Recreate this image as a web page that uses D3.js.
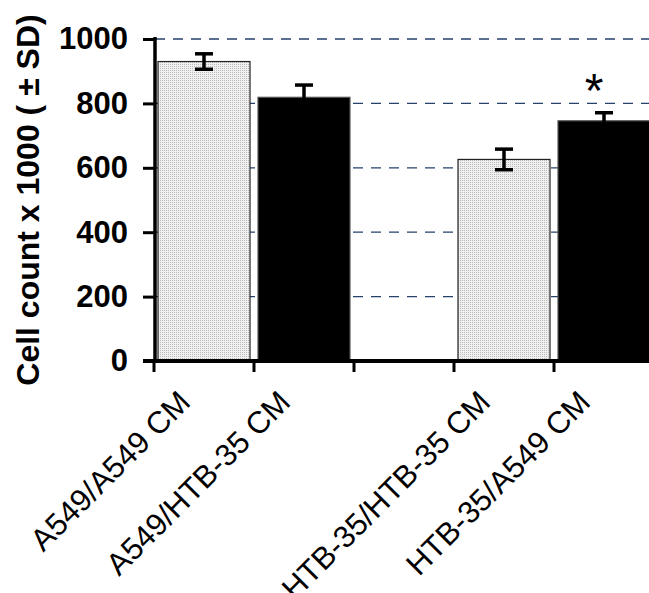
<!DOCTYPE html>
<html>
<head>
<meta charset="utf-8">
<script src="https://cdn.jsdelivr.net/npm/d3@7"></script>
<style>
  html, body { margin: 0; padding: 0; background: #fff; }
  svg { display: block; }
  text { font-family: Arial, "Liberation Sans", sans-serif; }
</style>
</head>
<body>
<svg id="chart" width="649" height="593"></svg>
<script>
// Category slots along the x axis ("" is the spacer between the two groups)
const categories = ["A549/A549 CM", "A549/HTB-35 CM", "", "HTB-35/HTB-35 CM", "HTB-35/A549 CM"];
// Mean cell count (x1000) per slot, null where there is no bar
const means = [930, 819, null, 626, 746];
// Standard deviation per slot
const sds = [24, 38, null, 32, 25];
// Bar style per slot: "dotted" = own conditioned medium, "solid" = other line's medium
const fills = ["dotted", "solid", null, "dotted", "solid"];
// Significance markers per slot
const marks = ["", "", "", "", "*"];
// y-axis ticks
const yTicks = [0, 200, 400, 600, 800, 1000];
const gridTicks = [200, 400, 600, 800, 1000];

const svg = d3.select("#chart");
const W = 649, H = 593;

const x = d3.scaleBand()
  .domain(d3.range(categories.length))
  .range([154, 654])
  .paddingInner(0.08)
  .paddingOuter(0.04);

const y = d3.scaleLinear().domain([0, 1000]).range([361, 39]);

// dotted fill pattern
const defs = svg.append("defs");
const pat = defs.append("pattern")
  .attr("id", "dots")
  .attr("width", 2).attr("height", 2)
  .attr("patternUnits", "userSpaceOnUse");
pat.append("rect").attr("width", 2).attr("height", 2).attr("fill", "#efefef");
pat.append("rect").attr("width", 1).attr("height", 1).attr("fill", "#bdbdbd");

// dashed horizontal gridlines
svg.append("g").selectAll("line")
  .data(gridTicks)
  .join("line")
  .attr("x1", 155).attr("x2", W)
  .attr("y1", d => y(d)).attr("y2", d => y(d))
  .attr("stroke", "#24426a")
  .attr("stroke-width", 1.3)
  .attr("stroke-dasharray", "10,8");

// bars
const idx = d3.range(categories.length).filter(i => means[i] != null);
svg.append("g").selectAll("rect")
  .data(idx)
  .join("rect")
  .attr("x", i => x(i))
  .attr("width", x.bandwidth())
  .attr("y", i => y(means[i]))
  .attr("height", i => y(0) - y(means[i]))
  .attr("fill", i => fills[i] === "dotted" ? "url(#dots)" : "#000")
  .attr("stroke", i => fills[i] === "dotted" ? "#222" : "#555")
  .attr("stroke-width", 1.2);

// error bars
const eb = svg.append("g").attr("stroke", "#000").attr("stroke-width", 3.5);
idx.forEach(i => {
  const cx = x(i) + x.bandwidth() / 2;
  const hi = y(means[i] + sds[i]), lo = y(means[i] - sds[i]);
  eb.append("line").attr("x1", cx).attr("x2", cx).attr("y1", hi).attr("y2", lo);
  eb.append("line").attr("x1", cx - 9).attr("x2", cx + 9).attr("y1", hi).attr("y2", hi);
  eb.append("line").attr("x1", cx - 9).attr("x2", cx + 9).attr("y1", lo).attr("y2", lo);
});

// significance markers
svg.append("g").selectAll("text")
  .data(idx.filter(i => marks[i]))
  .join("text")
  .attr("x", i => x(i) + x.bandwidth() / 2 - 10)
  .attr("y", i => y(means[i] + sds[i]) - 6)
  .attr("text-anchor", "middle")
  .attr("font-size", 48)
  .attr("fill", "#000")
  .text(i => marks[i]);

// y axis
const yAxis = svg.append("g")
  .attr("transform", "translate(155,0)")
  .call(d3.axisLeft(y).tickValues(yTicks).tickSize(12).tickPadding(15).tickFormat(d3.format("d")));
yAxis.select(".domain").attr("stroke-width", 3.5).attr("d", `M0,${y(0)}V${y(1000) - 2}`);
yAxis.selectAll(".tick line").attr("stroke-width", 3);
yAxis.selectAll(".tick text")
  .attr("font-size", 31).attr("font-weight", "bold").attr("fill", "#000")
  .attr("font-family", "Arial, 'Liberation Sans', sans-serif");

// x axis baseline and boundary ticks
const step = x.step();
const x0 = x.range()[0];
svg.append("line")
  .attr("x1", 143).attr("x2", W)
  .attr("y1", y(0)).attr("y2", y(0))
  .attr("stroke", "#000").attr("stroke-width", 4);
svg.append("g").selectAll("line")
  .data(d3.range(categories.length))
  .join("line")
  .attr("x1", i => x0 + i * step).attr("x2", i => x0 + i * step)
  .attr("y1", y(0)).attr("y2", y(0) + 11)
  .attr("stroke", "#000").attr("stroke-width", 3);

// rotated category labels
svg.append("g").selectAll("text")
  .data(d3.range(categories.length).filter(i => categories[i]))
  .join("text")
  .attr("transform", i => `translate(${x(i) + x.bandwidth() / 2 - 12},${y(0) + 43}) rotate(-45)`)
  .attr("text-anchor", "end")
  .attr("font-size", 31)
  .attr("fill", "#000")
  .text(i => categories[i]);

// y axis title
svg.append("text")
  .attr("transform", `translate(39,200) rotate(-90)`)
  .attr("text-anchor", "middle")
  .attr("font-size", 32)
  .attr("font-weight", "bold")
  .attr("fill", "#000")
  .text("Cell count x 1000 ( ± SD)");
</script>
</body>
</html>
